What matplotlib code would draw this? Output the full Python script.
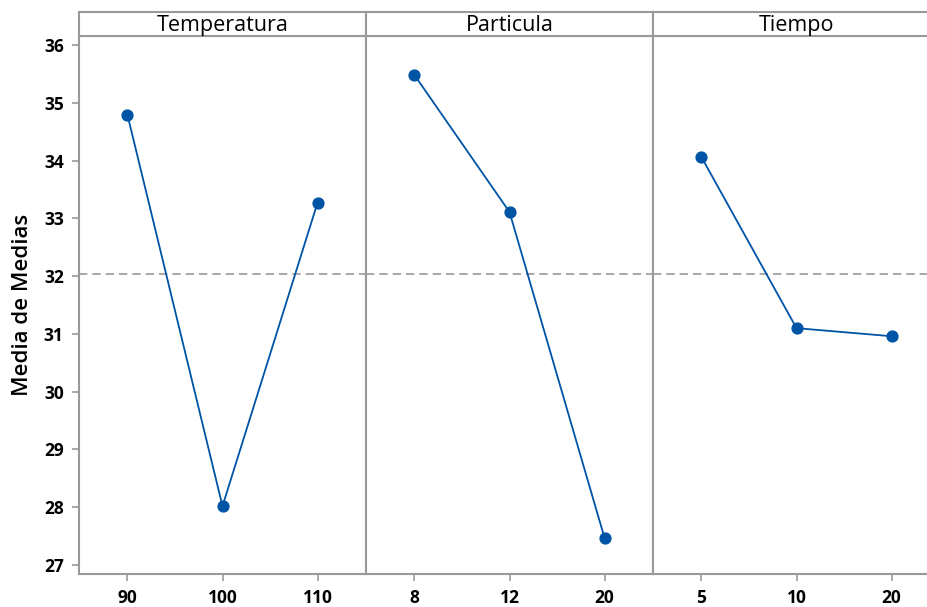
import numpy as np
import matplotlib.pyplot as plt

plt.rcParams['font.family'] = ['Open Sans', 'DejaVu Sans']

factors = ["Temperatura", "Particula", "Tiempo"]
levels = [["90", "100", "110"], ["8", "12", "20"], ["5", "10", "20"]]
means = [
    [34.79, 28.02, 33.27],
    [35.48, 33.11, 27.47],
    [34.06, 31.10, 30.96],
]
grand_mean = np.mean(means)

W, H = 927, 607
fig = plt.figure(figsize=(W / 100, H / 100), dpi=100)

grey = "#999999"
blue = "#0054A6"
left, panel_w = 79, 287
top, strip_h, bottom = 12, 24, 574

for i, (name, labs, vals) in enumerate(zip(factors, levels, means)):
    x0 = left + i * panel_w
    ax = fig.add_axes([x0 / W, 1 - bottom / H, panel_w / W, (bottom - top - strip_h) / H])
    xs = np.arange(len(vals))
    ax.plot(xs, vals, color=blue, lw=1.3, marker="o", ms=7.8, zorder=3)
    ax.axhline(grand_mean, color=grey, lw=1.2, ls=(0, (5, 3)), zorder=1)
    ax.set_xlim(-0.51, 2.51)
    ax.set_ylim(26.845, 36.156)
    ax.set_xticks(xs)
    ax.set_xticklabels(labs, fontweight="bold", fontsize=12.5)
    ax.set_yticks(range(27, 37))
    for s in ax.spines.values():
        s.set_color(grey)
        s.set_linewidth(1.5)
    ax.tick_params(colors=grey, labelcolor="black", length=5, width=1.2, pad=6)
    if i == 0:
        ax.set_yticklabels([str(v) for v in range(27, 37)], fontweight="bold", fontsize=12.5)
        ax.set_ylabel("Media de Medias", fontsize=16, fontweight="semibold", labelpad=8)
    else:
        ax.tick_params(axis="y", left=False, labelleft=False)

    strip = fig.add_axes([x0 / W, 1 - (top + strip_h) / H, panel_w / W, strip_h / H])
    strip.set_xticks([])
    strip.set_yticks([])
    for s in strip.spines.values():
        s.set_color(grey)
        s.set_linewidth(1.5)
    strip.text(0.5, 0.45, name, ha="center", va="center", fontsize=15.5, transform=strip.transAxes)

fig.savefig("out.png", dpi=100)
